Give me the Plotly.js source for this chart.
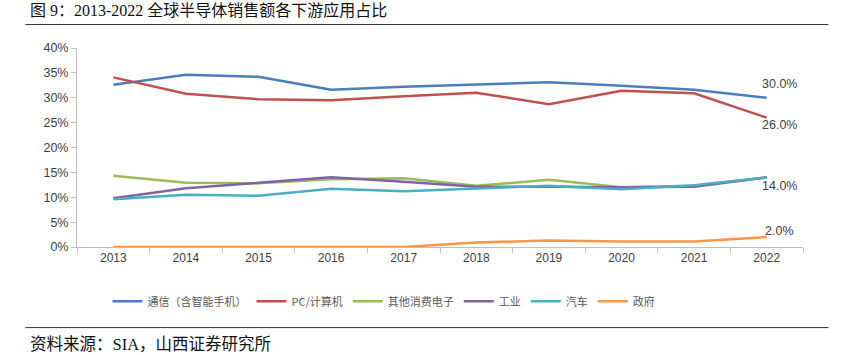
<!DOCTYPE html>
<html><head><meta charset="utf-8">
<script src="https://cdn.plot.ly/plotly-3.0.1.min.js"></script>
<style>html,body{margin:0;padding:0;background:#fff;}#chart{width:850px;height:355px;}</style>
</head><body><div id="chart"></div>
<script>
const years = ['2013','2014','2015','2016','2017','2018','2019','2020','2021','2022'];
const seriesNames = ['通信（含智能手机）','PC/计算机','其他消费电子','工业','汽车','政府'];
const comm    = [32.6, 34.6, 34.2, 31.6, 32.2, 32.6, 33.1, 32.4, 31.6, 30.0];
const pc      = [34.1, 30.8, 29.7, 29.5, 30.3, 31.0, 28.7, 31.4, 30.9, 26.0];
const consumer= [14.3, 12.9, 12.8, 13.6, 13.8, 12.3, 13.5, 12.0, 12.3, 14.0];
const industry= [9.8, 11.8, 12.9, 14.0, 13.1, 12.1, 12.1, 12.0, 12.1, 14.0];
const auto    = [9.6, 10.5, 10.3, 11.7, 11.2, 11.7, 12.3, 11.6, 12.4, 14.0];
const gov     = [0, 0, 0, 0, 0, 0.9, 1.3, 1.1, 1.1, 2.0];
const yTicks = [0,5,10,15,20,25,30,35,40];
const yTickText = yTicks.map(v => v + '%');
const colors = ['#4a7ebb','#c0504d','#9bbb59','#8064a2','#4bacc6','#f79646'];
const allSeries = [comm, pc, consumer, industry, auto, gov];

const traces = allSeries.map((s,i)=>({
  x: years, y: s, type:'scatter', mode:'lines', name: seriesNames[i],
  line:{color: colors[i], width:2.5}, hoverinfo:'skip'
}));

const labelSeries = [comm, pc, industry, gov];
const labelShift = [14, -7, -9, 6];
const last = years.length-1;
const annotations = labelSeries.map((s,i)=>({
  x: last, y: s[last], xref:'x', yref:'y',
  text: s[last].toFixed(1)+'%', showarrow:false,
  xshift: 13, yshift: labelShift[i], xanchor:'center', yanchor:'middle',
  font:{family:'Liberation Sans, Arial, sans-serif', size:12.5, color:'#404040'}
}));
annotations.push(
  {xref:'paper', yref:'paper', x:-0.067, y:1.19, xanchor:'left', yanchor:'middle', showarrow:false,
   text:'图 9：2013-2022 全球半导体销售额各下游应用占比',
   font:{family:'Liberation Serif, Noto Sans CJK SC, serif', size:16, color:'#111'}},
  {xref:'paper', yref:'paper', x:-0.067, y:-0.49, xanchor:'left', yanchor:'middle', showarrow:false,
   text:'资料来源：SIA，山西证券研究所',
   font:{family:'Liberation Serif, Noto Sans CJK SC, serif', size:16.5, color:'#111'}}
);

const layout = {
  width:850, height:355,
  margin:{l:77, r:47, t:48, b:108},
  paper_bgcolor:'#fff', plot_bgcolor:'#fff',
  showlegend:true,
  legend:{orientation:'h', x:0.042, xanchor:'left', y:-0.2, yanchor:'top',
    font:{family:'Noto Sans CJK SC, sans-serif', size:11, color:'#595959'},
    itemwidth:30, tracegroupgap:0},
  xaxis:{type:'category', showgrid:false, zeroline:false,
    showline:true, linecolor:'#bfbfbf', linewidth:1,
    ticks:'outside', tickson:'boundaries', ticklen:5, tickcolor:'#bfbfbf',
    tickfont:{family:'Liberation Sans, Arial, sans-serif', size:12, color:'#404040'},
    range:[-0.5, 9.5]},
  yaxis:{range:[0,40], tickvals:yTicks, ticktext:yTickText, showgrid:false, zeroline:false,
    showline:true, linecolor:'#bfbfbf', linewidth:1,
    ticks:'outside', ticklen:5, tickcolor:'#bfbfbf',
    tickfont:{family:'Liberation Sans, Arial, sans-serif', size:12.5, color:'#404040'}},
  annotations: annotations,
  shapes:[
    {type:'line', xref:'paper', yref:'paper', x0:-0.071, x1:1.035, y0:1.118, y1:1.118, line:{color:'#333', width:1}},
    {type:'line', xref:'paper', yref:'paper', x0:-0.071, x1:1.035, y0:-0.405, y1:-0.405, line:{color:'#333', width:1}}
  ]
};

Plotly.newPlot('chart', traces, layout, {staticPlot:true, displayModeBar:false});
</script></body></html>
